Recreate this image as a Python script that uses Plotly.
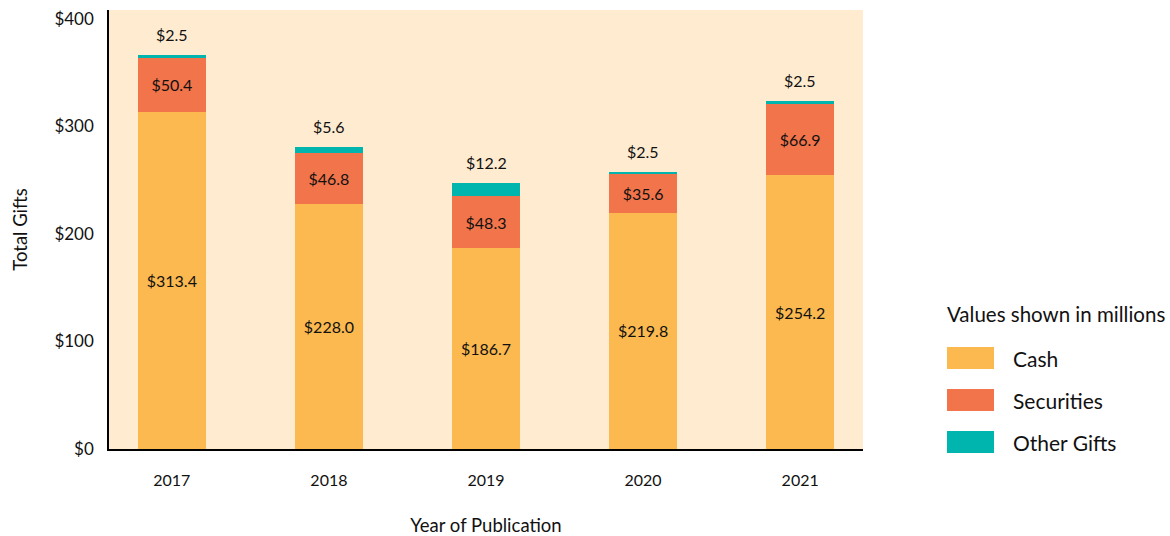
import plotly.graph_objects as go

years = ["2017", "2018", "2019", "2020", "2021"]
cash = [313.4, 228.0, 186.7, 219.8, 254.2]
securities = [50.4, 46.8, 48.3, 35.6, 66.9]
other = [2.5, 5.6, 12.2, 2.5, 2.5]
series_names = ["Cash", "Securities", "Other Gifts"]
colors = ["#FBB94F", "#F2744B", "#00B5AD"]
y_ticks = [0, 100, 200, 300, 400]

FONT = "Lato"
fig = go.Figure()
for name, vals, col, show_text in [
    (series_names[0], cash, colors[0], True),
    (series_names[1], securities, colors[1], True),
    (series_names[2], other, colors[2], False),
]:
    fig.add_trace(go.Bar(
        x=years, y=vals, name=name, marker=dict(color=col, line=dict(width=0)),
        text=[f"${v:.1f}" for v in vals] if show_text else None,
        textposition="inside" if show_text else "none",
        insidetextanchor="middle",
        textfont=dict(color="#111111", size=16, family=FONT),
        width=0.43, showlegend=False,
    ))

totals = [c + s + o for c, s, o in zip(cash, securities, other)]
for i, (t, o) in enumerate(zip(totals, other)):
    fig.add_annotation(x=i, y=t, xref="x", yref="y", text=f"${o:.1f}", showarrow=False,
                       yanchor="bottom", yshift=9,
                       font=dict(size=16, color="#111111", family=FONT))

# custom legend
def py(p):
    return (449 - p) / 439
def px(p):
    return (p - 109) / 754

fig.add_annotation(xref="paper", yref="paper", x=px(945), y=py(314), text="Values shown in millions",
                   showarrow=False, xanchor="left", yanchor="middle",
                   font=dict(size=20.5, color="#111111", family=FONT))
for i, (name, col) in enumerate(zip(series_names, colors)):
    top = 347 + i * 42
    fig.add_shape(type="rect", xref="paper", yref="paper",
                  x0=px(947), x1=px(994), y0=py(top), y1=py(top + 22),
                  fillcolor=col, line=dict(width=0))
    fig.add_annotation(xref="paper", yref="paper", x=px(1011), y=py(top + 11), text=name,
                       showarrow=False, xanchor="left", yanchor="middle",
                       font=dict(size=21, color="#111111", family=FONT))

fig.update_layout(
    barmode="stack",
    width=1170, height=536,
    margin=dict(l=109, r=307, t=10, b=87),
    plot_bgcolor="#FEEBD0",
    paper_bgcolor="white",
    font=dict(family=FONT, color="#111111"),
    xaxis=dict(
        type="category", automargin=False,
        range=[-0.4, 4.4], showgrid=False, showline=True, linecolor="black", linewidth=1.5,
        ticks="", tickfont=dict(size=16), ticklabelstandoff=16,
        title=dict(text="Year of Publication", font=dict(size=18.5), standoff=31),
    ),
    yaxis=dict(
        automargin=False,
        range=[0, 408], showgrid=False, zeroline=False, showline=True, linecolor="black", linewidth=1.5,
        tickvals=y_ticks, ticktext=[f"${v}" for v in y_ticks], tickfont=dict(size=17),
        ticks="", ticklabelstandoff=10,
        title=dict(text="Total Gifts", font=dict(size=18.5), standoff=22),
    ),
)

fig.write_html("out.html", config={"displayModeBar": False},
               post_script="document.body.style.margin='0';document.body.style.overflow='hidden';")
